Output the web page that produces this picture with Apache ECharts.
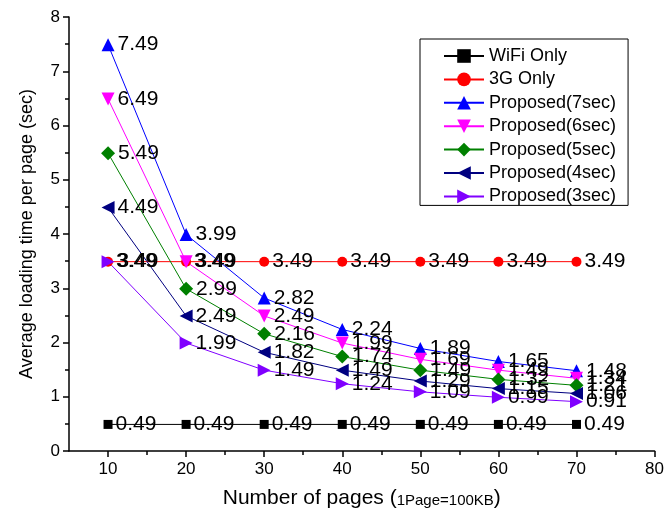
<!DOCTYPE html>
<html>
<head>
<meta charset="utf-8">
<script src="https://cdn.jsdelivr.net/npm/echarts@6/dist/echarts.min.js"></script>
<style>
  html, body { margin: 0; padding: 0; background: #fff; }
  #chart { width: 667px; height: 523px; }
</style>
</head>
<body>
<div id="chart"></div>
<script>
// pages (x axis)
const pages = [10, 20, 30, 40, 50, 60, 70];

// average loading time per page (sec)
const wifiOnly = [0.49, 0.49, 0.49, 0.49, 0.49, 0.49, 0.49];
const g3Only = [3.49, 3.49, 3.49, 3.49, 3.49, 3.49, 3.49];
const proposed7 = [7.49, 3.99, 2.82, 2.24, 1.89, 1.65, 1.48];
const proposed6 = [6.49, 3.49, 2.49, 1.99, 1.69, 1.49, 1.34];
const proposed5 = [5.49, 2.99, 2.16, 1.74, 1.49, 1.32, 1.21];
const proposed4 = [4.49, 2.49, 1.82, 1.49, 1.29, 1.15, 1.06];
const proposed3 = [3.49, 1.99, 1.49, 1.24, 1.09, 0.99, 0.91];

// tick labels
const xMajorTicks = [10, 20, 30, 40, 50, 60, 70, 80];
const xMinorTicks = [15, 25, 35, 45, 55, 65, 75];

const font = 'Arial, "Liberation Sans", sans-serif';

const makeSeries = (name, values, color, symbol, size, rotate) => {
    return {
        name: name,
        type: 'line',
        data: pages.map((p, i) => [p, values[i]]),
        symbol: symbol,
        symbolSize: size,
        symbolRotate: rotate || 0,
        itemStyle: { color: color },
        lineStyle: { color: color, width: 1 },
        label: {
            show: true,
            position: 'right',
            distance: 3,
            color: '#000',
            fontFamily: font,
            fontSize: 21,
            formatter: (p) => p.value[1].toFixed(2)
        },
        labelLayout: { hideOverlap: false },
        animation: false
    };
};

const series = [
    makeSeries('WiFi Only', wifiOnly, '#000000', 'rect', 9),
    makeSeries('3G Only', g3Only, '#ff0000', 'circle', 10),
    makeSeries('Proposed(7sec)', proposed7, '#0000ff', 'triangle', 13),
    makeSeries('Proposed(6sec)', proposed6, '#ff00ff', 'triangle', 13, 180),
    makeSeries('Proposed(5sec)', proposed5, '#008000', 'diamond', 14),
    makeSeries('Proposed(4sec)', proposed4, '#000080', 'triangle', 13, 90),
    makeSeries('Proposed(3sec)', proposed3, '#8000ff', 'triangle', 13, -90)
];

const chart = echarts.init(document.getElementById('chart'), null, { renderer: 'canvas' });

const option = {
    backgroundColor: '#fff',
    animation: false,
    grid: { left: 69, right: 8, top: 17, bottom: 72, containLabel: false },
    legend: {
        orient: 'vertical',
        left: 420,
        top: 39,
        padding: [8, 12, 0, 23],
        itemWidth: 40,
        itemHeight: 17,
        itemGap: 5.4,
        borderColor: '#000',
        borderWidth: 1,
        borderRadius: 0,
        textStyle: { fontFamily: font, fontSize: 18, color: '#000' },
        data: series.map(s => s.name)
    },
    xAxis: [{
        type: 'value',
        min: 5,
        max: 80,
        name: 'Number of pages {s|(}{t|1Page=100KB}{s|)}',
        nameLocation: 'middle',
        nameGap: 37,
        nameTextStyle: {
            fontFamily: font, fontSize: 21, color: '#000',
            rich: {
                s: { fontFamily: font, fontSize: 21, color: '#000' },
                t: { fontFamily: font, fontSize: 15, color: '#000', padding: [4, 0, 0, 0] }
            }
        },
        splitLine: { show: false },
        axisLine: { lineStyle: { color: '#000', width: 1.5 } },
        axisTick: { inside: false, length: 6, customValues: xMajorTicks, lineStyle: { color: '#000', width: 1.5 } },
        axisLabel: { customValues: xMajorTicks, margin: 10, color: '#000', fontFamily: font, fontSize: 17 }
    }, {
        type: 'value',
        min: 5,
        max: 80,
        position: 'bottom',
        splitLine: { show: false },
        axisLine: { show: false },
        axisTick: { length: 4, customValues: xMinorTicks, lineStyle: { color: '#000', width: 1.5 } },
        axisLabel: { show: false }
    }],
    yAxis: {
        type: 'value',
        min: 0,
        max: 8,
        interval: 1,
        name: 'Average loading time per page (sec)',
        nameLocation: 'middle',
        nameGap: 33,
        nameTextStyle: { fontFamily: font, fontSize: 18, color: '#000' },
        splitLine: { show: false },
        axisLine: { show: true, lineStyle: { color: '#000', width: 1.5 } },
        axisTick: { show: true, length: 6, lineStyle: { color: '#000', width: 1.5 } },
        minorTick: { show: true, splitNumber: 2, length: 4, lineStyle: { color: '#000', width: 1.5 } },
        axisLabel: { margin: 9, color: '#000', fontFamily: font, fontSize: 17 }
    },
    series: series
};

chart.setOption(option);
</script>
</body>
</html>
